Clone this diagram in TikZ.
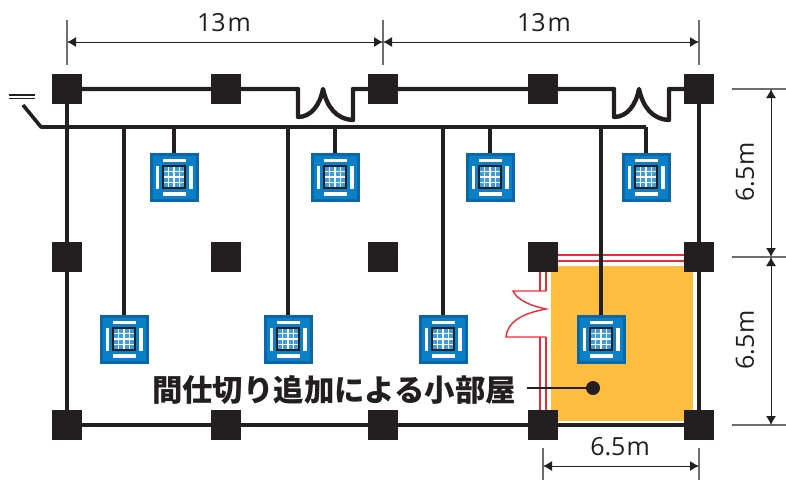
\documentclass[tikz,border=0pt]{standalone}
\usepackage{fontspec}
\usepackage{xcolor}
\usepackage{tikz}
\usetikzlibrary{arrows.meta}
\setmainfont{Open Sans}
\newfontfamily\cjk{Noto Sans CJK JP}
\definecolor{pillarblack}{HTML}{231F20}
\definecolor{roomorange}{HTML}{FDBE3F}
\definecolor{unitdark}{HTML}{0A68A8}
\definecolor{unitblue}{HTML}{0A80C8}
\definecolor{cellblue}{HTML}{3A9FE0}
\definecolor{roomred}{HTML}{EE2A35}
\tikzset{
	pillar/.style={fill=pillarblack,minimum size=30pt,inner sep=0pt,outer sep=0pt},
	wall/.style={draw=pillarblack,line width=4.4pt,line join=round},
	partition/.style={draw=roomred,line width=1.4pt},
	dimline/.style={draw=pillarblack,line width=1pt,{Latex[length=9pt,width=10pt]}-{Latex[length=9pt,width=10pt]}},
	extline/.style={draw=pillarblack!65,line width=1.1pt},
	unitbox/.style={fill=unitdark,minimum size=49pt,inner sep=0pt,outer sep=0pt},
	dimtext/.style={text=pillarblack,font=\fontsize{25pt}{25pt}\selectfont,inner sep=0pt}
}
\newcommand{\aircon}[3]{%
	\node[unitbox] (#1) at (#2,#3) {};
	\begin{scope}[shift={(#2,#3)}]
		\fill[unitblue] (-21.5,-21.5) rectangle (21.5,21.5);
		\fill[white] (-11.5,-18.5) rectangle (11.5,-15);
		\fill[white] (-11.5,15) rectangle (11.5,18.5);
		\fill[white] (-18.5,-11.5) rectangle (-15,11.5);
		\fill[white] (15,-11.5) rectangle (18.5,11.5);
		\fill[cellblue] (-11,-11) rectangle (11,11);
		\draw[white,line width=1.7pt] (-5.5,-11)--(-5.5,11) (0,-11)--(0,11) (5.5,-11)--(5.5,11);
		\draw[white,line width=1.7pt] (-11,-5.5)--(11,-5.5) (-11,0)--(11,0) (-11,5.5)--(11,5.5);
		\draw[pillarblack,line width=1.7pt] (-11,-11) rectangle (11,11);
	\end{scope}
}
\begin{document}
\begin{tikzpicture}[x=1pt,y=-1pt]
	\useasboundingbox (0,0) rectangle (786,480);
	% room
	\fill[roomorange] (551,266) rectangle (693,421);
	% pillars
	\node[pillar] (p11) at (67,89) {};
	\node[pillar] (p12) at (226,89) {};
	\node[pillar] (p13) at (383,89) {};
	\node[pillar] (p14) at (543,89) {};
	\node[pillar] (p15) at (699,89) {};
	\node[pillar] (p21) at (67,257) {};
	\node[pillar] (p22) at (226,257) {};
	\node[pillar] (p23) at (383,257) {};
	\node[pillar] (p24) at (543,257) {};
	\node[pillar] (p25) at (699,257) {};
	\node[pillar] (p31) at (67,425) {};
	\node[pillar] (p32) at (226,425) {};
	\node[pillar] (p33) at (383,425) {};
	\node[pillar] (p34) at (543,425) {};
	\node[pillar] (p35) at (699,425) {};
	% walls
	\draw[wall] (p11) -- (p21) -- (p31) -- (p32) -- (p33) -- (p34) -- (p35) -- (p25) -- (p15);
	\draw[wall] (p11) -- (p12) -- (298,89) -- (298,117) .. controls (311,117) and (320,105) .. (323,89)
		.. controls (327,107) and (336,119) .. (353,120) -- (353,89) -- (p13);
	\draw[wall] (p13) -- (p14) -- (614,89) -- (614,117) .. controls (627,117) and (636,105) .. (639,89)
		.. controls (643,107) and (652,119) .. (669,120) -- (669,89) -- (p15);
	% partition
	\draw[partition] (p24.east |- 0,255) -- (p25.west |- 0,255);
	\draw[partition] (p24.east |- 0,261) -- (p25.west |- 0,261);
	\draw[partition] (540,272) -- (540,291) (546,272) -- (546,291);
	\draw[partition] (540,337) -- (540,410) (546,337) -- (546,410);
	\draw[partition] (546,291) -- (513,291) .. controls (518,301) and (532,306) .. (546,309)
		.. controls (525,313) and (508,320) .. (506,337) -- (546,337);
	% wiring
	\coordinate (sw) at (23,105);
	\coordinate (busl) at (41,127);
	\coordinate (busr) at (646,127);
	\draw[pillarblack,line width=1.1pt] (9,95) -- (35,95) (9,98.5) -- (35,98.5);
	\draw[wall,line width=3.6pt] (sw) -- (busl) -- (busr);
	\aircon{u1}{174}{177}
	\aircon{u2}{335}{177}
	\aircon{u3}{490}{177}
	\aircon{u4}{646}{177}
	\aircon{u5}{124}{339}
	\aircon{u6}{288}{339}
	\aircon{u7}{443}{339}
	\aircon{u8}{601}{339}
	\draw[wall,line width=3.6pt] (u1.north |- busl) -- (u1.north);
	\draw[wall,line width=3.6pt] (u2.north |- busl) -- (u2.north);
	\draw[wall,line width=3.6pt] (u3.north |- busl) -- (u3.north);
	\draw[wall,line width=3.6pt] (busr) -- (u4.north);
	\draw[wall,line width=3.6pt] (u5.north |- busl) -- (u5.north);
	\draw[wall,line width=3.6pt] (u6.north |- busl) -- (u6.north);
	\draw[wall,line width=3.6pt] (u7.north |- busl) -- (u7.north);
	\draw[wall,line width=3.6pt] (u8.north |- busl) -- (u8.north);
	% label
	\node[text=pillarblack,inner sep=0pt] (roomlabel) at (334,390) {\cjk\bfseries\fontsize{30.4pt}{30.4pt}\selectfont 間仕切り追加による小部屋};
	\node[circle,fill=pillarblack,minimum size=14pt,inner sep=0pt] (roomdot) at (593,388) {};
	\draw[pillarblack,line width=1.2pt] (527,388) -- (roomdot);
	% dimensions
	\coordinate (e1a) at (67,20);
	\coordinate (e1b) at (67,65);
	\coordinate (e2a) at (383,20);
	\coordinate (e2b) at (383,65);
	\coordinate (e3a) at (699,20);
	\coordinate (e3b) at (699,65);
	\draw[extline] (e1a) -- (e1b);
	\draw[extline] (e2a) -- (e2b);
	\draw[extline] (e3a) -- (e3b);
	\coordinate (d1) at (67,42);
	\coordinate (d2) at (383,42);
	\coordinate (d3) at (699,42);
	\draw[dimline] (d1) -- (d2);
	\draw[dimline] (d2) -- (d3);
	\node[dimtext] (top1) at (224,23) {13\kern2pt m};
	\node[dimtext] (top2) at (544,23) {13\kern2pt m};
	\coordinate (e4a) at (732,89);
	\coordinate (e4b) at (786,89);
	\coordinate (e5a) at (732,257);
	\coordinate (e5b) at (786,257);
	\coordinate (e6a) at (732,425);
	\coordinate (e6b) at (786,425);
	\draw[extline] (e4a) -- (e4b);
	\draw[extline] (e5a) -- (e5b);
	\draw[extline] (e6a) -- (e6b);
	\coordinate (d4) at (771,89);
	\coordinate (d5) at (771,257);
	\coordinate (d6) at (771,425);
	\draw[dimline] (d4) -- (d5);
	\draw[dimline] (d5) -- (d6);
	\node[dimtext,rotate=90] (side1) at (745,172) {6.5\kern1pt m};
	\node[dimtext,rotate=90] (side2) at (745,340) {6.5\kern1pt m};
	\coordinate (e7a) at (543,448);
	\coordinate (e7b) at (543,480);
	\coordinate (e8a) at (699,448);
	\coordinate (e8b) at (699,480);
	\draw[extline] (e7a) -- (e7b);
	\draw[extline] (e8a) -- (e8b);
	\coordinate (d7) at (543,466);
	\coordinate (d8) at (699,466);
	\draw[dimline] (d7) -- (d8);
	\node[dimtext] (bottom1) at (620,447) {6.5\kern1pt m};
\end{tikzpicture}
\end{document}
